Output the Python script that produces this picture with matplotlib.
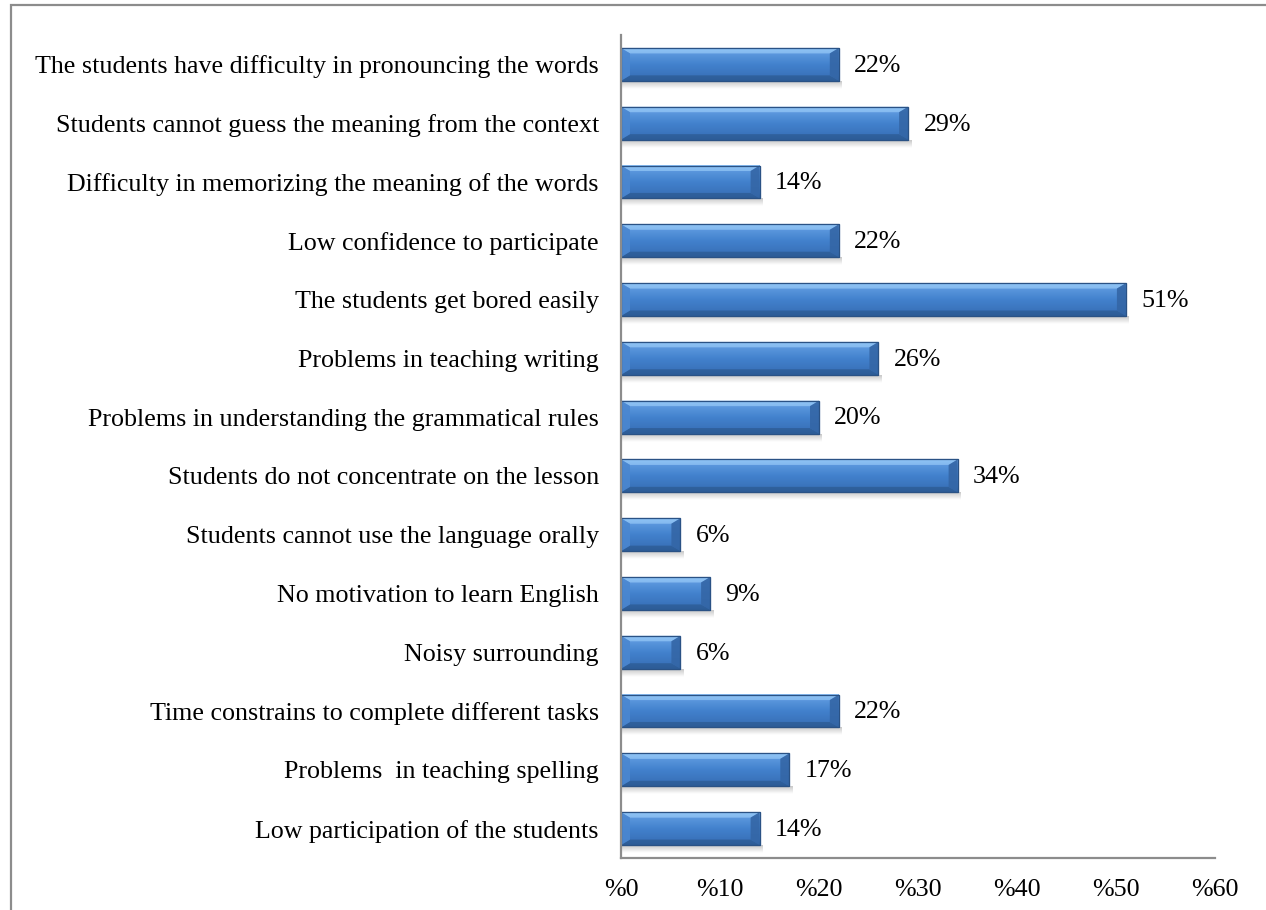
import matplotlib
matplotlib.use("Agg")
import matplotlib.pyplot as plt
import numpy as np
from matplotlib.patches import Rectangle, Polygon
import matplotlib.colors as mcolors

categories = [
    "The students have difficulty in pronouncing the words",
    "Students cannot guess the meaning from the context",
    "Difficulty in memorizing the meaning of the words",
    "Low confidence to participate",
    "The students get bored easily",
    "Problems in teaching writing",
    "Problems in understanding the grammatical rules",
    "Students do not concentrate on the lesson",
    "Students cannot use the language orally",
    "No motivation to learn English",
    "Noisy surrounding",
    "Time constrains to complete different tasks",
    "Problems  in teaching spelling",
    "Low participation of the students",
]
values = [22, 29, 14, 22, 51, 26, 20, 34, 6, 9, 6, 22, 17, 14]
xticks = [0, 10, 20, 30, 40, 50, 60]
xtick_labels = ["%0", "%10", "%20", "%30", "%40", "%50", "%60"]

plt.rcParams['font.family'] = ['Liberation Serif', 'DejaVu Serif']
FS = 18.7

W, H = 1266, 910
fig = plt.figure(figsize=(W / 100, H / 100), dpi=100)
ax = fig.add_axes([621 / W, 52 / H, (1215 - 621) / W, (875 - 52) / H])

ypos = np.arange(len(categories))
bars = ax.barh(ypos, values, height=0.56, color="#3d78c4", edgecolor="#2b5a93",
               linewidth=0.8, zorder=3)
ax.set_xlim(0, 60)
ax.set_ylim(len(categories) - 0.5, -0.5)

ppx = (1215 - 621) / 60.0
ppy = (875 - 52) / len(categories)
bx = 9 / ppx
by = 5.5 / ppy

grad = np.linspace(0, 1, 64).reshape(-1, 1)
cmap = mcolors.LinearSegmentedColormap.from_list(
    "bev", [(0.0, "#86bbf2"), (0.15, "#5c98de"), (0.5, "#4281cd"), (0.85, "#3a73bb"), (1.0, "#2f5f9c")])

shadow_grad = np.linspace(0.22, 0.0, 32).reshape(-1, 1)

for b in bars:
    x0, y0 = b.get_x(), b.get_y()
    w, h = b.get_width(), b.get_height()
    x1, y1 = x0 + w, y0 + h
    sh = 8 / ppy
    ax.imshow(np.dstack([np.zeros((32, 1, 3)), shadow_grad[:, :, None]]),
              aspect="auto", extent=(x0, x1 + 3 / ppx, y1 + sh, y1), zorder=2,
              interpolation="bilinear")
    ax.imshow(grad, cmap=cmap, aspect="auto", extent=(x0, x1, y1, y0),
              zorder=3.1, interpolation="bilinear")
    ax.add_patch(Polygon([(x0, y0), (x1, y0), (x1 - bx, y0 + by), (x0 + bx, y0 + by)],
                         closed=True, facecolor="#93c6f6", edgecolor="none", alpha=0.75, zorder=3.2))
    ax.add_patch(Polygon([(x0, y1), (x1, y1), (x1 - bx, y1 - by), (x0 + bx, y1 - by)],
                         closed=True, facecolor="#2d5c96", edgecolor="none", alpha=0.8, zorder=3.2))
    ax.add_patch(Polygon([(x1, y0), (x1, y1), (x1 - bx, y1 - by), (x1 - bx, y0 + by)],
                         closed=True, facecolor="#3466a6", edgecolor="none", alpha=0.9, zorder=3.2))
    ax.add_patch(Polygon([(x0, y0), (x0, y1), (x0 + bx, y1 - by), (x0 + bx, y0 + by)],
                         closed=True, facecolor="#4b87d0", edgecolor="none", alpha=0.9, zorder=3.2))
    ax.add_patch(Rectangle((x0, y0), w, h, facecolor="none", edgecolor="#2a5285",
                           linewidth=0.9, zorder=3.3))

for b, v in zip(bars, values):
    ax.annotate(f"{v}%", xy=(b.get_width(), b.get_y() + b.get_height() / 2),
                xytext=(11, -1), textcoords="offset points", va="center", ha="left",
                fontsize=FS, color="#000000")

ax.set_yticks(ypos)
ax.set_yticklabels(categories, fontsize=FS)
ax.set_xticks(xticks)
ax.set_xticklabels(xtick_labels, fontsize=FS)
ax.tick_params(axis="both", length=0)
ax.tick_params(axis="y", pad=16)
ax.tick_params(axis="x", pad=15)

for s in ["top", "right"]:
    ax.spines[s].set_visible(False)
for s in ["left", "bottom"]:
    ax.spines[s].set_color("#8c8c8c")
    ax.spines[s].set_linewidth(1.6)
ax.spines["left"].set_zorder(4)

fig.add_artist(Rectangle((10.5 / W, -0.05), 1.2, 1 - 5.5 / H + 0.05,
                         transform=fig.transFigure, fill=False,
                         edgecolor="#8c8c8c", linewidth=1.6))

fig.savefig("out.png", dpi=100, facecolor="white")
